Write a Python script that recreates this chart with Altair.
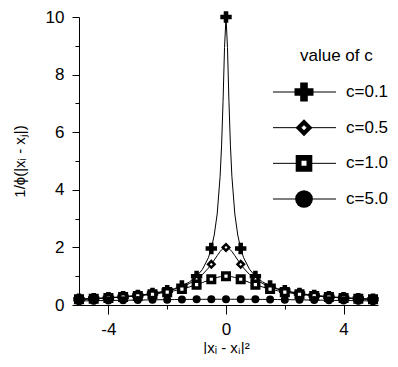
import altair as alt
import pandas as pd

series = ["c=0.1", "c=0.5", "c=1.0", "c=5.0"]
legend_title = ["value of c"]

line_x = [-5, -4.5, -4, -3.5, -3, -2.5, -2, -1.75, -1.5, -1.25, -1, -0.8, -0.6, -0.5, -0.4,
          -0.3, -0.2, -0.15, -0.1, -0.05, 0, 0.05, 0.1, 0.15, 0.2, 0.3, 0.4, 0.5, 0.6, 0.8,
          1, 1.25, 1.5, 1.75, 2, 2.5, 3, 3.5, 4, 4.5, 5]

c01 = [0.200, 0.222, 0.250, 0.286, 0.333, 0.400, 0.499, 0.570, 0.665, 0.797, 0.995, 1.24,
       1.64, 1.96, 2.43, 3.16, 4.47, 5.55, 7.07, 8.94, 10.0, 8.94, 7.07, 5.55, 4.47, 3.16,
       2.43, 1.96, 1.64, 1.24, 0.995, 0.797, 0.665, 0.570, 0.499, 0.400, 0.333, 0.286,
       0.250, 0.222, 0.200]
c05 = [0.199, 0.221, 0.248, 0.283, 0.329, 0.392, 0.485, 0.549, 0.632, 0.743, 0.894, 1.060,
       1.280, 1.414, 1.562, 1.715, 1.857, 1.916, 1.961, 1.990, 2.000, 1.990, 1.961, 1.916,
       1.857, 1.715, 1.562, 1.414, 1.280, 1.060, 0.894, 0.743, 0.632, 0.549, 0.485, 0.392,
       0.329, 0.283, 0.248, 0.221, 0.199]
c10 = [0.196, 0.217, 0.243, 0.275, 0.316, 0.371, 0.447, 0.496, 0.555, 0.625, 0.707, 0.781,
       0.857, 0.894, 0.928, 0.958, 0.981, 0.989, 0.995, 0.999, 1.000, 0.999, 0.995, 0.989,
       0.981, 0.958, 0.928, 0.894, 0.857, 0.781, 0.707, 0.625, 0.555, 0.496, 0.447, 0.371,
       0.316, 0.275, 0.243, 0.217, 0.196]
c50 = [0.141, 0.149, 0.156, 0.164, 0.171, 0.179, 0.186, 0.189, 0.192, 0.194, 0.196, 0.197,
       0.199, 0.199, 0.199, 0.200, 0.200, 0.200, 0.200, 0.200, 0.200, 0.200, 0.200, 0.200,
       0.200, 0.200, 0.199, 0.199, 0.199, 0.197, 0.196, 0.194, 0.192, 0.189, 0.186, 0.179,
       0.171, 0.164, 0.156, 0.149, 0.141]

marker_x = [-5, -4.5, -4, -3.5, -3, -2.5, -2, -1.5, -1, -0.5, 0, 0.5, 1, 1.5, 2, 2.5, 3,
            3.5, 4, 4.5, 5]

x_ticks = [-4, -2, 0, 2, 4]
y_ticks = [0, 1, 2, 3, 4, 5, 6, 7, 8, 9, 10]

rows = []
for name, vals in zip(series, [c01, c05, c10, c50]):
    for xv, yv in zip(line_x, vals):
        rows.append({"series": name, "x": xv, "y": yv})
df = pd.DataFrame(rows)
mk = df[df["x"].isin(marker_x)]
leg = pd.DataFrame({"series": series})
leg_title = pd.DataFrame({"t": legend_title})

FONT = "Liberation Sans"

plot_styles = {
    "c=0.1": dict(shape="cross", fill="black", strokeWidth=0, size=130),
    "c=0.5": dict(shape="diamond", fill="white", stroke="black", strokeWidth=2.5, size=42),
    "c=1.0": dict(shape="square", fill="white", stroke="black", strokeWidth=3.4, size=44),
    "c=5.0": dict(shape="circle", fill="black", strokeWidth=0, size=64),
}
legend_styles = {
    "c=0.1": dict(shape="cross", fill="black", strokeWidth=0, size=361),
    "c=0.5": dict(shape="diamond", fill="white", stroke="black", strokeWidth=4.2, size=121),
    "c=1.0": dict(shape="square", fill="white", stroke="black", strokeWidth=5.8, size=117),
    "c=5.0": dict(shape="circle", fill="black", strokeWidth=0, size=314),
}

xscale = alt.Scale(domain=[-5, 5.17], nice=False, zero=False)
yscale = alt.Scale(domain=[0, 10], nice=False)

x_axis = alt.Axis(
    values=x_ticks,
    labelExpr="datum.value % 4 === 0 ? '' + datum.value : ''",
    tickSize={"condition": {"test": "datum.value % 4 !== 0", "value": 4}, "value": 9},
    labelPadding=7,
    title="|xᵢ - xⱼ|²", titleX=147, titleY=42, titleBaseline="middle",
    titleAlign="center",
)
y_axis = alt.Axis(
    values=y_ticks,
    labelExpr="datum.value % 2 === 0 ? '' + datum.value : ''",
    tickSize={"condition": {"test": "datum.value % 2 !== 0", "value": 4}, "value": 7},
    labelPadding=8,
    title="1/ϕ(|xᵢ - xⱼ|)", titleX=-60, titleY=144, titleBaseline="middle",
    titleAlign="center", titleAngle=270,
)
X = alt.X("x:Q", scale=xscale, axis=x_axis)
Y = alt.Y("y:Q", scale=yscale, axis=y_axis)

lines = alt.Chart(df).mark_line(color="black", strokeWidth=1).encode(
    x=X, y=Y, detail="series:N", order="x:Q")

layers = [lines]
for name in series:
    st = plot_styles[name]
    layers.append(
        alt.Chart(mk).transform_filter(alt.datum.series == name)
        .mark_point(filled=True, opacity=1, **st)
        .encode(x=X, y=Y)
    )
plot = alt.layer(*layers)

LY = alt.Y("series:N", scale=alt.Scale(type="point", domain=series, range=[75, 182], padding=0),
           axis=None)
leg_rules = alt.Chart(leg).mark_rule(color="black", strokeWidth=1).encode(
    x=alt.value(194), x2=alt.value(257), y=LY)
leg_layers = [leg_rules]
for name in series:
    st = legend_styles[name]
    leg_layers.append(
        alt.Chart(leg).transform_filter(alt.datum.series == name)
        .mark_point(filled=True, opacity=1, **st)
        .encode(x=alt.value(225), y=LY)
    )
leg_layers.append(
    alt.Chart(leg).mark_text(align="left", baseline="middle", font=FONT, fontSize=17,
                             color="black").encode(x=alt.value(267), y=LY, text="series:N")
)
leg_layers.append(
    alt.Chart(leg_title).mark_text(align="left", baseline="middle", font=FONT, fontSize=17,
                                   color="black").encode(x=alt.value(221), y=alt.value(39),
                                                         text="t:N")
)
legend = alt.layer(*leg_layers)

chart = alt.layer(plot, legend).resolve_scale(y="independent").properties(
    width=299, height=288,
    autosize=alt.AutoSizeParams(type="none"),
    padding={"left": 71, "top": 9, "right": 12, "bottom": 49},
).configure_view(stroke=None).configure_axis(
    grid=False, domainColor="black", tickColor="black", labelColor="black",
    titleColor="black", labelFont=FONT, titleFont=FONT, labelFontSize=17,
    titleFontSize=15, titleFontWeight="normal", domainWidth=1, tickWidth=1,
)

chart.save("out.html", embed_options={"renderer": "svg", "actions": False})
